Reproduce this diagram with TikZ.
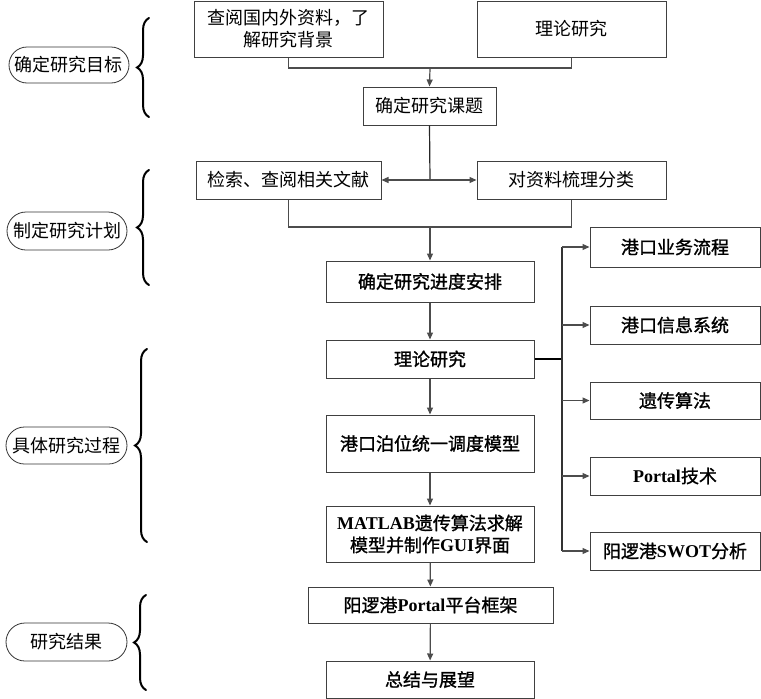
\documentclass[tikz,border=0pt]{standalone}
\usepackage{fontspec}
\setmainfont{Noto Sans CJK SC}
\newfontfamily\cjkbold[FakeBold=1.2]{Noto Sans CJK SC}
\newfontfamily\latb{Liberation Serif Bold}
\usetikzlibrary{arrows.meta,decorations.pathreplacing,shapes.misc}
\tikzset{
  box/.style={draw=black!75, line width=1pt, inner sep=0pt, align=center,
    font=\fontsize{18}{22}\selectfont},
  bbox/.style={box, font=\fontsize{18}{22}\selectfont\cjkbold},
  oval/.style={draw=black!80, line width=0.8pt, rounded rectangle, inner sep=0pt,
    font=\fontsize{18}{22}\selectfont},
  conn/.style={draw=black!70, line width=1.2pt},
  arr/.style={conn, -{Triangle[length=7pt,width=6pt]}},
  bracestyle/.style={draw=black, line width=2pt, line cap=round, decorate,
    decoration={brace, amplitude=12pt}},
}
\begin{document}
\begin{tikzpicture}[x=1pt, y=-1pt]
\useasboundingbox (0,0) rectangle (761,699);
% top boxes
\node[box, minimum width=189pt, minimum height=56pt] (b1) at (288.5,29) {查阅国内外资料，了\\解研究背景};
\node[box, minimum width=189pt, minimum height=56pt] (b2) at (571.5,29) {理论研究};
\node[box, minimum width=133pt, minimum height=38pt] (b3) at (429.5,106) {确定研究课题};
\node[box, minimum width=185pt, minimum height=38pt] (b4) at (288.5,180) {检索、查阅相关文献};
\node[box, minimum width=189pt, minimum height=38pt] (b5) at (571.5,180) {对资料梳理分类};
\node[bbox, minimum width=208pt, minimum height=41pt] (b6) at (430,281.5) {确定研究进度安排};
\node[bbox, minimum width=208pt, minimum height=38pt] (b7) at (430,359) {理论研究};
\node[bbox, minimum width=208pt, minimum height=57pt] (b8) at (430,443.5) {港口泊位统一调度模型};
\node[bbox, minimum width=208pt, minimum height=56pt] (b9) at (430,534) {{\latb MATLAB}遗传算法求解\\模型并制作{\latb GUI}界面};
\node[bbox, minimum width=245pt, minimum height=36pt] (b10) at (430.5,605) {阳逻港{\latb Portal}平台框架};
\node[bbox, minimum width=208pt, minimum height=37pt] (b11) at (430,679.5) {总结与展望};
% right boxes
\node[bbox, minimum width=170pt, minimum height=40pt] (r1) at (675,247) {港口业务流程};
\node[bbox, minimum width=170pt, minimum height=38pt] (r2) at (675,325) {港口信息系统};
\node[bbox, minimum width=170pt, minimum height=37pt] (r3) at (675,400.5) {遗传算法};
\node[bbox, minimum width=170pt, minimum height=38pt] (r4) at (675,476) {{\latb Portal}技术};
\node[bbox, minimum width=170pt, minimum height=38pt] (r5) at (675,551) {阳逻港{\latb SWOT}分析};
% left ovals
\node[oval, minimum width=120pt, minimum height=36pt] (o1) at (69,65) {确定研究目标};
\node[oval, minimum width=120pt, minimum height=38pt] (o2) at (67,231) {制定研究计划};
\node[oval, minimum width=121pt, minimum height=37pt] (o3) at (66.5,445.5) {具体研究过程};
\node[oval, minimum width=121pt, minimum height=38pt] (o4) at (66.5,642) {研究结果};
% braces
\coordinate (br1a) at (149,117); \coordinate (br1b) at (149,18);
\coordinate (br2a) at (149,285); \coordinate (br2b) at (149,170);
\coordinate (br3a) at (147,542); \coordinate (br3b) at (147,349);
\coordinate (br4a) at (146,690); \coordinate (br4b) at (146,595);
\draw[bracestyle] (br1a) -- (br1b);
\draw[bracestyle] (br2a) -- (br2b);
\draw[bracestyle] (br3a) -- (br3b);
\draw[bracestyle] (br4a) -- (br4b);
% connectors top
\coordinate (j1) at (430,68);
\draw[conn] (b1.south) |- (j1) -| (b2.south);
\draw[arr] (j1) -- (b3.north);
\coordinate (j2) at (430,180);
\draw[conn, draw=black!85] (b3.south) -- (j2);
\draw[arr] (j2) -- (b4.east);
\draw[arr] (j2) -- (b5.west);
\coordinate (j3) at (430,227);
\draw[conn] (b4.south) |- (j3) -| (b5.south);
\draw[arr] (j3) -- (b6.north);
% main chain
\draw[arr] (b6) -- (b7);
\draw[arr] (b7) -- (b8);
\draw[arr] (b8) -- (b9);
\draw[arr] (b9) -- (b10);
\draw[arr] (b10) -- (b11);
% right branch
\coordinate (v0) at (562,359);
\coordinate (v1) at (562,247);
\coordinate (v5) at (562,551);
\draw[draw=black, line width=2pt] (b7.east) -- (v0);
\draw[draw=black!80, line width=1.6pt] (v1) -- (v5);
\draw[arr] (v1) -- (r1.west);
\draw[arr] (v1 |- r2.west) -- (r2.west);
\draw[arr] (v1 |- r3.west) -- (r3.west);
\draw[arr] (v1 |- r4.west) -- (r4.west);
\draw[arr] (v5) -- (r5.west);
\end{tikzpicture}
\end{document}
